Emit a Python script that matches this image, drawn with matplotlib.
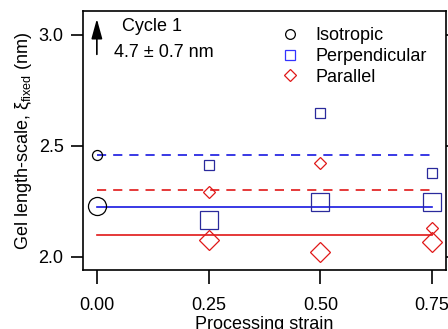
import matplotlib
matplotlib.use("Agg")
import matplotlib.pyplot as plt
from matplotlib.lines import Line2D

plt.rcParams['font.family'] = ['Liberation Sans', 'DejaVu Sans']
plt.rcParams['mathtext.fontset'] = 'custom'
plt.rcParams['mathtext.rm'] = 'Liberation Sans'
plt.rcParams['mathtext.it'] = 'Liberation Sans'

# Data
strain = [0.00, 0.25, 0.50, 0.75]
iso_small = [2.46]
iso_large = [2.23]
perp_small = [2.414, 2.649, 2.378]
perp_large = [2.167, 2.248, 2.248]
para_small = [2.293, 2.423, 2.130]
para_large = [2.077, 2.023, 2.068]
perp_dashed = 2.457
para_dashed = 2.302
perp_solid = 2.225
para_solid = 2.099
legend_labels = ["Isotropic", "Perpendicular", "Parallel"]

navy = '#2a2a9c'
blue = '#1818e0'
red = '#e01818'
fs = 13

fig = plt.figure(figsize=(4.48, 3.29), dpi=100)
ax = fig.add_axes([83/448, 1-270/329, (446-83)/448, (270-11)/329])

lw = 1.2
ax.plot([strain[0], strain[-1]], [perp_dashed]*2, color=blue, lw=lw, ls=(0, (5.5, 4.2)), zorder=2)
ax.plot([strain[0], strain[-1]], [para_dashed]*2, color=red, lw=lw, ls=(0, (5.5, 4.2)), zorder=2)
ax.plot([strain[0], strain[-1]], [perp_solid]*2, color=blue, lw=lw, zorder=2)
ax.plot([strain[0], strain[-1]], [para_solid]*2, color=red, lw=lw, zorder=2)

mew = 0.9
ax.plot(strain[:1], iso_small, 'o', mfc='none', mec='black', ms=7.2, mew=mew, zorder=3)
ax.plot(strain[:1], iso_large, 'o', mfc='none', mec='black', ms=13, mew=mew, zorder=3)
ax.plot(strain[1:], perp_small, 's', mfc='none', mec=navy, ms=7.6, mew=mew, zorder=3)
ax.plot(strain[1:], perp_large, 's', mfc='none', mec=navy, ms=12.8, mew=mew, zorder=3)
ax.plot(strain[1:], para_small, 'D', mfc='none', mec=red, ms=6.2, mew=mew, zorder=3)
ax.plot(strain[1:], para_large, 'D', mfc='none', mec=red, ms=10.6, mew=mew, zorder=3)

ax.set_xlim(-0.031, 0.781)
ax.set_ylim(1.94, 3.108)
ax.set_xticks(strain)
ax.set_xticklabels(["0.00", "0.25", "0.50", "0.75"])
ax.set_yticks([2.0, 2.5, 3.0])
ax.set_yticklabels(["2.0", "2.5", "3.0"])

for s in ax.spines.values():
    s.set_linewidth(1.2)
ax.tick_params(axis='both', direction='out', length=8.5, width=1.2, labelsize=fs, colors='black')
ax.tick_params(axis='x', length=10, pad=9.5)
ax.tick_params(axis='y', pad=5.5, right=True, labelright=False)

ax.set_xlabel("Processing strain", fontsize=fs, labelpad=1.5)
ax.set_ylabel(r"Gel length-scale, $\mathregular{ξ_{fixed}}$ (nm)", fontsize=fs, labelpad=3)

# Arrow and text
ax.annotate("", xy=(0.0, 3.085), xytext=(0.0, 2.90),
            arrowprops=dict(arrowstyle='-|>,head_length=1.2,head_width=0.33', color='black', lw=1.2))
ax.text(0.056, 3.036, "Cycle 1", fontsize=fs, va='center', ha='left')
ax.text(0.038, 2.923, "4.7 ± 0.7 nm", fontsize=fs, va='center', ha='left')

handles = [
    Line2D([], [], marker='o', ls='none', mfc='none', mec='black', ms=7, mew=mew),
    Line2D([], [], marker='s', ls='none', mfc='none', mec='#3333ff', ms=7, mew=mew),
    Line2D([], [], marker='D', ls='none', mfc='none', mec=red, ms=5.8, mew=mew),
]
ax.legend(handles, legend_labels, loc='upper left', bbox_to_anchor=(0.514, 0.965),
          frameon=False, fontsize=fs, handletextpad=0.65, labelspacing=0.2,
          handlelength=1.5, borderaxespad=0)

fig.savefig("out.png", dpi=100)
